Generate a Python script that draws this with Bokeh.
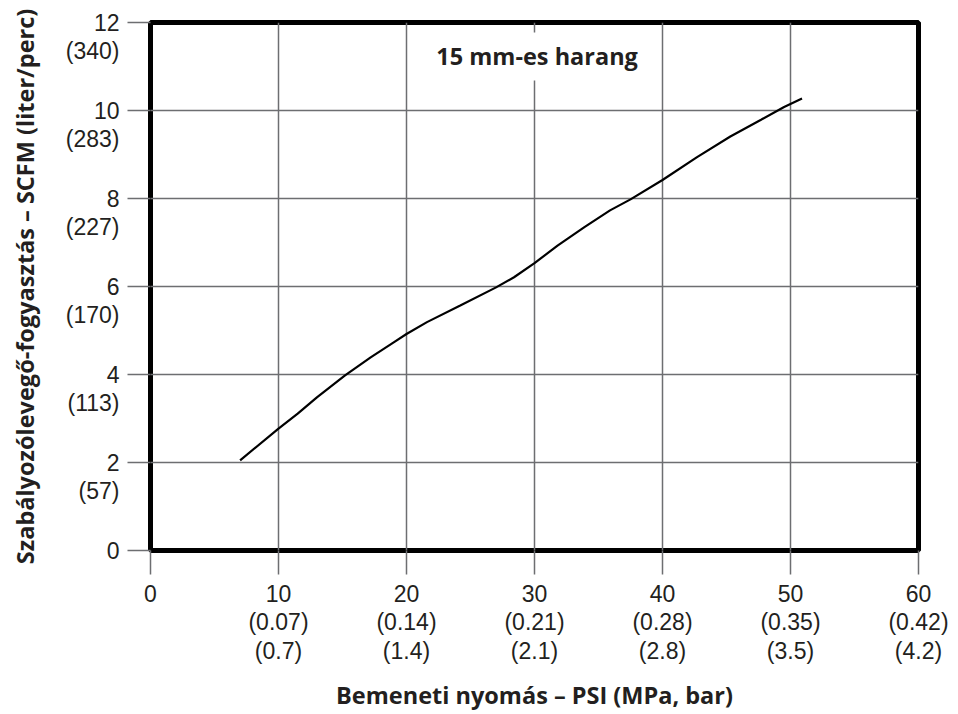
from bokeh.plotting import figure
from bokeh.models import Range1d, FixedTicker, Label, LinearAxis
from bokeh.embed import file_html
from bokeh.resources import INLINE

# Data
psi = [7.0, 10.0, 11.5, 13.0, 15.2, 17.2, 19.0, 20.0, 21.6, 24.2, 27.0, 28.4, 30.0,
       31.8, 33.9, 35.9, 37.5, 40.0, 42.7, 45.3, 47.7, 49.5, 50.9]
scfm = [2.05, 2.77, 3.11, 3.48, 3.98, 4.39, 4.73, 4.92, 5.19, 5.57, 5.98, 6.21, 6.53,
        6.93, 7.35, 7.73, 7.98, 8.42, 8.94, 9.41, 9.79, 10.08, 10.27]

x_ticks = [0, 10, 20, 30, 40, 50, 60]
x_mpa = ["", "(0.07)", "(0.14)", "(0.21)", "(0.28)", "(0.35)", "(0.42)"]
x_bar = ["", "(0.7)", "(1.4)", "(2.1)", "(2.8)", "(3.5)", "(4.2)"]

y_ticks = [0, 2, 4, 6, 8, 10, 12]
y_lpm = ["", "(57)", "(113)", "(170)", "(227)", "(283)", "(340)"]

title_text = "15 mm-es harang"
x_title = "Bemeneti nyomás – PSI (MPa, bar)"
y_title = "Szabályozólevegő-fogyasztás – SCFM (liter/perc)"

TXT = "#231f20"
GRID = "#6d6e71"
BOLD_SIZE = "23.5px"
TICK_SIZE = "23px"

W, H = 950, 714
B_LEFT, B_RIGHT, B_TOP, B_BOTTOM = 150, 32, 22, 164
Y0, Y1 = 0, 12

p = figure(width=W, height=H, x_range=Range1d(0, 60), y_range=Range1d(Y0, Y1),
           output_backend="svg", toolbar_location=None,
           min_border_left=B_LEFT, min_border_right=B_RIGHT,
           min_border_top=B_TOP, min_border_bottom=B_BOTTOM)

p.outline_line_color = "black"
p.outline_line_width = 5
p.background_fill_color = "white"
p.border_fill_color = "white"

# grid
p.xgrid.ticker = FixedTicker(ticks=x_ticks)
p.ygrid.ticker = FixedTicker(ticks=y_ticks)
for g in (p.xgrid, p.ygrid):
    g.grid_line_color = GRID
    g.grid_line_width = 1.5

# x axis
xa = p.xaxis[0]
xa.ticker = FixedTicker(ticks=x_ticks)
xa.major_label_overrides = {
    t: (str(t) if not m else f"{t}\n{m}\n{b}") for t, m, b in zip(x_ticks, x_mpa, x_bar)
}
xa.axis_line_color = None
xa.major_tick_line_color = GRID
xa.major_tick_line_width = 1.5
xa.major_tick_in = 0
xa.major_tick_out = 24
xa.minor_tick_line_color = None
xa.major_label_text_font = "Liberation Sans"
xa.major_label_text_font_size = TICK_SIZE
xa.major_label_text_color = TXT
xa.major_label_text_line_height = 1.1
xa.major_label_standoff = 6
xa.axis_label = x_title
xa.axis_label_text_font = "Open Sans"
xa.axis_label_text_font_style = "bold"
xa.axis_label_text_font_size = BOLD_SIZE
xa.axis_label_text_color = TXT
xa.axis_label_standoff = 12

# y axis: inner axis draws the tick marks only
ya = p.yaxis[0]
ya.ticker = FixedTicker(ticks=y_ticks)
ya.major_label_overrides = {t: "" for t in y_ticks}
ya.axis_line_color = None
ya.major_tick_line_color = GRID
ya.major_tick_line_width = 1.5
ya.major_tick_in = 0
ya.major_tick_out = 23
ya.minor_tick_line_color = None
ya.major_label_standoff = 0

# outer axis draws the two-line labels; each block is moved down by half a line
# so that its first line sits level with the tick
line_px = 23 * 1.149 * 1.1
shift = (line_px / 2) * (Y1 - Y0) / (H - B_TOP - B_BOTTOM)
lab_ticks, lab_over = [], {}
for t, l in zip(y_ticks, y_lpm):
    if l:
        pos = t - shift
        lab_over[pos] = f"{t}\n{l}"
    else:
        pos = t
        lab_over[pos] = str(t)
    lab_ticks.append(pos)

la = LinearAxis(ticker=FixedTicker(ticks=lab_ticks), major_label_overrides=lab_over)
la.axis_line_color = None
la.major_tick_line_color = None
la.major_tick_in = 0
la.major_tick_out = 0
la.minor_tick_line_color = None
la.major_label_text_font = "Liberation Sans"
la.major_label_text_font_size = TICK_SIZE
la.major_label_text_color = TXT
la.major_label_text_line_height = 1.1
la.major_label_standoff = 8
la.axis_label = y_title
la.axis_label_text_font = "Open Sans"
la.axis_label_text_font_style = "bold"
la.axis_label_text_font_size = BOLD_SIZE
la.axis_label_text_color = TXT
la.axis_label_standoff = 22
p.add_layout(la, "left")

p.line(psi, scfm, line_color="black", line_width=2.2)

p.add_layout(Label(x=30.2, y=11.23, text=title_text, text_font="Open Sans",
                   text_font_style="bold", text_font_size=BOLD_SIZE, text_color=TXT,
                   text_align="center", text_baseline="middle",
                   background_fill_color="white", padding=8))

open("out.html", "w").write(file_html(p, INLINE))
